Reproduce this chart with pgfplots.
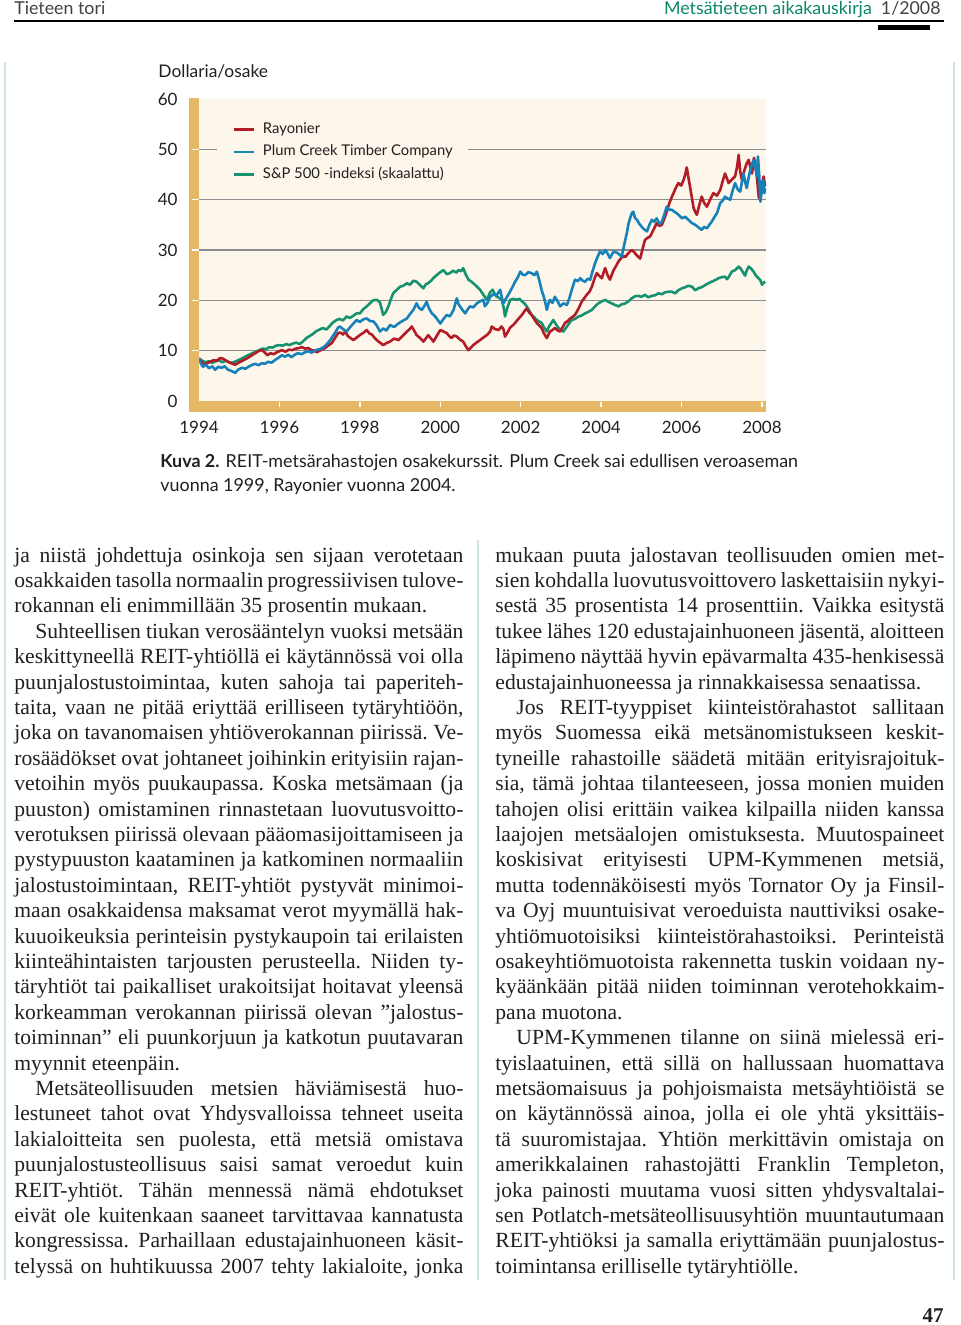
\documentclass[border=0pt]{standalone}
\usepackage{pgfplots}
\pgfplotsset{compat=1.18}
\usepackage{fontspec}
\setmainfont{Liberation Serif}
\newfontfamily\gill{Lato}
\definecolor{rred}{RGB}{178,28,38}
\definecolor{rblue}{RGB}{23,130,186}
\definecolor{rgreen}{RGB}{22,146,110}
\definecolor{bgcream}{RGB}{253,246,235}
\definecolor{gold}{RGB}{228,184,100}
\definecolor{gridgrey}{RGB}{140,140,140}
\definecolor{hteal}{RGB}{10,135,105}
\definecolor{faint}{RGB}{205,228,222}
\definecolor{txt}{RGB}{35,31,32}
\newdimen\cw \cw=224.5pt
\newcommand\JL[1]{\hbox to \cw{#1}}
\newcommand\LL[1]{\hbox to \cw{#1\hfil}}
\newcommand\IL[1]{\hbox to \cw{\hskip10.5pt #1}}
\newcommand\bodyfont{\fontsize{10.8}{12.7}\selectfont\frenchspacing\spaceskip=.25em plus .6em minus .13em\relax}
\begin{document}
\begin{tikzpicture}
\path[use as bounding box, fill=white] (0pt,0pt) rectangle (480pt,-662.5pt);
\begin{axis}[
 at={(99.5pt,-200.5pt)}, anchor=south west,
 scale only axis, width=283.5pt, height=151pt,
 xmin=1994, xmax=2008.1, ymin=0, ymax=60,
 axis line style={draw=none},
 axis background/.style={fill=bgcream},
 xtick={1994,1996,1998,2000,2002,2004,2006,2008},
 xticklabels={1994,1996,1998,2000,2002,2004,2006,2008},
 ytick={10,20,30,40,50},
 extra y ticks={0,60},
 extra y tick style={grid=none},
 ymajorgrids,
 grid style={draw=gridgrey, line width=0.65pt},
 major tick length=0pt,
 tick style={draw=none},
 /pgf/number format/assume math mode=true,
 ticklabel style={font=\gill\fontsize{8.5}{10}\selectfont, inner sep=0pt, text=txt},
 yticklabel style={anchor=east, xshift=-10.5pt},
 xticklabel style={anchor=north, yshift=-9.75pt},
 legend style={at={(0.0317,0.950)}, anchor=north west, draw=none, fill=bgcream,
   inner xsep=7.5pt, inner ysep=4pt, font=\gill\fontsize{7.4}{9}\selectfont,
   row sep=4.15pt, cells={anchor=west}, nodes={inner sep=0pt, text height=5.5pt, text depth=1.6pt, text=txt}},
 legend image code/.code={\draw[#1] (0pt,0pt) -- (10pt,0pt); \path (14pt,0pt);},
 every axis plot/.append style={line width=1.3pt, line join=round},
]
\addlegendimage{rred, line width=1.3pt}
\addlegendentry{Rayonier}
\addlegendimage{rblue, line width=1.3pt}
\addlegendentry{Plum Creek Timber Company}
\addlegendimage{rgreen, line width=1.3pt}
\addlegendentry{S\&P 500 -indeksi (skaalattu)}
\addplot[rgreen, forget plot] table {
1994.00 8.4
1994.08 8.0
1994.15 7.7
1994.25 7.9
1994.33 7.6
1994.42 7.9
1994.50 8.1
1994.58 7.7
1994.67 8.0
1994.75 7.7
1994.83 7.6
1994.92 7.9
1995.00 8.2
1995.08 8.5
1995.17 8.9
1995.25 9.2
1995.33 9.5
1995.42 9.8
1995.50 10.1
1995.58 10.4
1995.67 10.3
1995.75 10.7
1995.83 10.6
1995.92 11.0
1996.00 11.1
1996.08 11.0
1996.17 11.3
1996.25 11.1
1996.33 11.4
1996.42 11.6
1996.50 11.3
1996.58 11.8
1996.67 12.5
1996.75 12.9
1996.83 13.3
1996.92 13.9
1997.00 14.2
1997.08 14.5
1997.17 14.2
1997.25 14.9
1997.33 15.6
1997.42 16.1
1997.50 16.3
1997.58 16.0
1997.67 16.8
1997.75 16.5
1997.83 16.9
1997.92 17.4
1998.00 17.4
1998.08 18.2
1998.17 18.8
1998.25 19.4
1998.33 20.0
1998.42 20.1
1998.50 19.6
1998.58 17.1
1998.64 17.6
1998.71 18.8
1998.77 20.2
1998.83 21.4
1998.92 22.1
1999.00 22.7
1999.08 22.9
1999.17 23.4
1999.25 23.1
1999.33 23.9
1999.41 23.7
1999.50 23.0
1999.58 22.4
1999.64 23.2
1999.70 23.4
1999.77 23.9
1999.84 24.5
1999.91 25.0
2000.00 25.6
2000.08 26.0
2000.16 25.2
2000.24 25.4
2000.32 25.9
2000.40 25.5
2000.45 26.0
2000.52 25.8
2000.57 26.4
2000.63 25.2
2000.70 24.1
2000.76 23.8
2000.82 23.4
2000.90 22.8
2000.99 22.1
2001.08 21.0
2001.16 20.1
2001.24 21.6
2001.30 22.1
2001.38 20.9
2001.46 20.5
2001.53 20.1
2001.58 18.4
2001.61 16.8
2001.67 18.6
2001.74 20.1
2001.82 20.3
2001.90 20.1
2001.97 20.3
2002.03 19.8
2002.09 19.4
2002.15 18.8
2002.21 18.0
2002.27 17.1
2002.34 16.6
2002.40 16.1
2002.46 15.8
2002.52 15.5
2002.58 14.6
2002.65 13.8
2002.69 14.6
2002.73 15.1
2002.81 16.1
2002.88 15.2
2002.94 14.5
2003.00 14.2
2003.06 13.8
2003.15 14.8
2003.21 15.5
2003.27 16.1
2003.35 16.3
2003.44 16.8
2003.52 17.0
2003.60 17.4
2003.68 17.7
2003.77 18.1
2003.85 18.8
2003.93 19.4
2004.02 19.8
2004.10 20.1
2004.18 19.7
2004.26 19.4
2004.34 19.1
2004.43 18.8
2004.51 19.2
2004.60 19.4
2004.68 19.8
2004.76 20.4
2004.84 20.8
2004.92 20.9
2005.00 20.7
2005.09 21.1
2005.17 20.6
2005.26 20.9
2005.34 21.0
2005.43 21.4
2005.51 21.2
2005.59 21.6
2005.68 21.7
2005.76 21.7
2005.84 21.4
2005.92 22.0
2006.01 22.4
2006.09 22.6
2006.17 22.9
2006.26 22.7
2006.34 22.0
2006.42 22.4
2006.50 22.6
2006.58 23.0
2006.67 23.4
2006.75 23.7
2006.83 24.0
2006.92 24.4
2007.00 24.6
2007.08 24.7
2007.13 24.2
2007.17 24.6
2007.25 25.7
2007.33 26.0
2007.42 26.7
2007.48 26.2
2007.54 25.4
2007.58 24.9
2007.62 25.9
2007.67 26.7
2007.73 26.3
2007.79 25.7
2007.85 24.9
2007.91 24.4
2007.96 24.0
2008.00 23.1
2008.04 23.5
2008.08 23.7
};
\addplot[rred, forget plot] table {
1994.00 8.5
1994.06 7.8
1994.12 7.2
1994.20 7.5
1994.28 7.8
1994.36 8.1
1994.44 8.0
1994.52 8.5
1994.57 8.5
1994.64 8.2
1994.72 7.8
1994.80 7.5
1994.90 7.2
1994.98 7.6
1995.08 8.0
1995.20 8.5
1995.30 9.0
1995.38 9.4
1995.44 9.7
1995.50 10.0
1995.57 10.1
1995.64 9.6
1995.70 9.1
1995.78 9.5
1995.86 9.3
1995.94 9.7
1996.06 10.1
1996.15 9.8
1996.24 10.2
1996.32 10.1
1996.40 10.4
1996.48 10.5
1996.56 10.7
1996.64 10.4
1996.72 10.5
1996.80 10.1
1996.86 10.0
1996.93 9.7
1997.00 10.0
1997.07 10.3
1997.13 10.5
1997.21 11.0
1997.30 11.5
1997.38 12.5
1997.46 13.5
1997.52 13.6
1997.58 13.2
1997.64 13.8
1997.70 12.9
1997.77 12.5
1997.84 12.1
1997.92 12.6
1998.00 13.1
1998.08 13.5
1998.17 14.1
1998.24 13.4
1998.30 13.2
1998.36 12.6
1998.42 12.1
1998.50 11.6
1998.58 11.1
1998.66 11.5
1998.75 11.8
1998.85 12.4
1998.96 12.1
1999.06 12.9
1999.17 13.8
1999.23 14.2
1999.29 14.8
1999.35 14.0
1999.41 13.1
1999.50 12.5
1999.58 11.8
1999.64 12.4
1999.70 13.1
1999.77 12.4
1999.83 11.8
1999.91 12.9
2000.00 14.1
2000.08 13.8
2000.16 13.5
2000.22 12.9
2000.28 12.5
2000.34 13.0
2000.41 12.8
2000.49 12.2
2000.57 11.8
2000.64 10.8
2000.70 10.1
2000.76 10.6
2000.82 11.1
2000.90 11.6
2000.99 12.1
2001.07 12.6
2001.16 13.1
2001.24 13.8
2001.28 14.8
2001.36 14.3
2001.45 14.1
2001.52 14.8
2001.57 14.3
2001.61 12.8
2001.67 13.6
2001.74 14.6
2001.80 15.0
2001.86 15.5
2001.94 16.3
2002.03 17.1
2002.09 17.8
2002.15 18.4
2002.21 17.6
2002.27 17.1
2002.34 16.2
2002.40 15.5
2002.46 15.0
2002.52 14.5
2002.58 13.4
2002.65 12.5
2002.69 13.2
2002.73 13.8
2002.79 14.1
2002.85 14.5
2002.92 14.0
2002.98 13.8
2003.04 14.6
2003.10 15.5
2003.17 15.9
2003.23 16.4
2003.29 16.7
2003.35 17.1
2003.44 18.4
2003.52 19.8
2003.58 20.4
2003.64 21.1
2003.71 21.7
2003.77 22.7
2003.83 24.2
2003.89 25.4
2003.96 24.8
2004.02 24.4
2004.06 25.5
2004.10 26.4
2004.16 25.0
2004.22 24.1
2004.27 25.2
2004.31 26.0
2004.37 26.8
2004.43 27.7
2004.50 28.4
2004.56 28.8
2004.60 28.6
2004.66 29.2
2004.72 29.7
2004.76 30.0
2004.82 29.6
2004.88 29.0
2004.97 28.3
2005.03 30.2
2005.09 32.0
2005.15 32.4
2005.22 32.7
2005.30 34.0
2005.38 35.3
2005.45 34.8
2005.51 35.0
2005.57 36.2
2005.63 37.6
2005.70 39.4
2005.76 40.6
2005.80 41.3
2005.86 42.4
2005.92 43.3
2005.99 42.8
2006.05 43.9
2006.09 45.0
2006.13 46.4
2006.17 44.4
2006.21 42.6
2006.26 40.2
2006.30 38.3
2006.34 37.6
2006.38 37.0
2006.44 38.9
2006.50 40.6
2006.56 39.4
2006.63 38.6
2006.71 40.0
2006.79 41.3
2006.88 40.8
2006.96 41.9
2007.02 43.6
2007.08 45.2
2007.13 44.2
2007.17 43.3
2007.25 44.0
2007.33 44.6
2007.38 46.5
2007.42 48.9
2007.46 45.5
2007.50 43.9
2007.56 45.8
2007.62 47.2
2007.67 47.9
2007.71 46.4
2007.75 45.2
2007.80 48.3
2007.84 47.0
2007.88 44.0
2007.92 40.4
2007.96 41.2
2008.00 43.2
2008.04 44.6
2008.08 42.6
};
\addplot[rblue, forget plot] table {
1994.00 8.5
1994.05 7.4
1994.10 6.8
1994.17 7.2
1994.25 6.5
1994.33 6.9
1994.40 6.2
1994.48 6.8
1994.56 6.6
1994.64 6.9
1994.72 6.2
1994.80 6.0
1994.90 5.6
1994.97 6.2
1995.07 6.6
1995.15 6.4
1995.25 6.9
1995.33 7.2
1995.40 7.4
1995.48 7.1
1995.56 7.5
1995.64 7.4
1995.72 7.8
1995.80 7.6
1995.90 8.2
1995.98 8.6
1996.06 9.1
1996.14 8.8
1996.22 9.2
1996.30 8.7
1996.38 9.2
1996.46 9.5
1996.55 9.3
1996.64 9.7
1996.72 9.9
1996.80 9.6
1996.90 10.1
1997.00 10.3
1997.06 10.5
1997.13 10.9
1997.20 11.5
1997.28 12.3
1997.38 13.5
1997.46 14.6
1997.50 14.8
1997.58 14.3
1997.67 13.8
1997.75 14.6
1997.84 15.4
1997.92 16.1
1998.00 15.7
1998.08 16.2
1998.17 16.4
1998.25 15.9
1998.34 15.8
1998.42 15.0
1998.50 13.8
1998.58 14.4
1998.66 14.0
1998.75 15.1
1998.85 14.7
1998.96 15.4
1999.06 15.9
1999.17 16.4
1999.25 17.3
1999.33 18.1
1999.41 19.4
1999.47 18.5
1999.54 18.1
1999.60 18.8
1999.66 19.7
1999.72 18.4
1999.79 17.4
1999.85 17.0
1999.91 16.4
2000.00 15.4
2000.08 16.3
2000.16 17.1
2000.24 16.8
2000.33 18.1
2000.41 20.4
2000.45 19.3
2000.49 18.8
2000.56 18.0
2000.62 17.4
2000.68 18.2
2000.74 18.8
2000.82 18.6
2000.91 19.4
2000.99 19.8
2001.07 20.1
2001.11 18.8
2001.18 19.6
2001.24 20.7
2001.32 21.2
2001.40 21.0
2001.49 22.1
2001.53 20.6
2001.57 19.4
2001.63 20.3
2001.69 21.1
2001.78 22.4
2001.86 23.7
2001.93 24.6
2001.99 25.7
2002.05 25.1
2002.11 25.0
2002.19 25.6
2002.27 25.4
2002.34 25.0
2002.40 25.7
2002.44 24.6
2002.48 23.4
2002.52 22.0
2002.56 21.1
2002.61 19.6
2002.65 18.1
2002.69 19.4
2002.73 20.1
2002.79 19.5
2002.85 20.7
2002.92 19.8
2002.98 18.8
2003.06 19.4
2003.15 19.1
2003.21 20.4
2003.27 22.1
2003.35 24.1
2003.42 23.8
2003.48 24.4
2003.54 23.9
2003.60 23.7
2003.67 24.3
2003.73 24.1
2003.79 25.9
2003.85 27.4
2003.91 28.6
2003.97 29.7
2004.04 29.2
2004.10 30.0
2004.16 29.3
2004.22 28.4
2004.31 29.7
2004.41 29.4
2004.51 28.7
2004.56 30.5
2004.60 32.0
2004.64 33.4
2004.68 35.2
2004.72 36.3
2004.76 37.3
2004.80 37.6
2004.84 36.4
2004.89 36.0
2004.95 35.2
2005.01 34.6
2005.07 34.1
2005.14 33.7
2005.20 35.0
2005.26 36.0
2005.32 35.6
2005.38 36.3
2005.45 35.2
2005.51 35.6
2005.57 37.0
2005.63 38.6
2005.69 38.0
2005.76 38.0
2005.82 37.6
2005.88 37.3
2005.95 36.8
2006.01 36.3
2006.09 36.6
2006.17 36.0
2006.25 35.4
2006.34 35.0
2006.42 34.5
2006.50 34.0
2006.56 34.6
2006.63 34.3
2006.69 35.0
2006.75 35.6
2006.82 36.6
2006.88 37.3
2006.96 39.3
2007.02 39.8
2007.08 40.6
2007.15 40.2
2007.21 40.0
2007.27 41.8
2007.33 43.3
2007.40 42.0
2007.46 41.6
2007.50 43.5
2007.54 45.2
2007.58 43.6
2007.62 42.3
2007.67 44.5
2007.71 45.9
2007.75 47.0
2007.79 47.9
2007.83 46.5
2007.87 44.6
2007.90 48.6
2007.93 45.0
2007.96 39.6
2008.00 42.0
2008.03 43.9
2008.06 41.3
2008.08 42.3
};
\end{axis}
\begin{scope}[x=0.5pt, y=-0.5pt]
% gold axis bars
\fill[gold] (189,98) rectangle (199,412);
\fill[gold] (199,401.5) rectangle (766,412);
\foreach \v in {10,20,30,40,50} \draw[white, line width=0.6pt] (192,{401-5.0333*\v}) -- (199,{401-5.0333*\v});
\foreach \yr in {1996,1998,2000,2002,2004,2006,2008} \draw[white, line width=0.7pt] ({199+40.21*(\yr-1994)},402) -- ({199+40.21*(\yr-1994)},407);
\node[anchor=base west, inner sep=0pt, text=txt, font=\gill\fontsize{8.7}{10}\selectfont] at (158,78) {Dollaria/osake};
% header
\node[anchor=base west, inner sep=0pt, text=txt!85, font=\gill\fontsize{8.9}{10}\selectfont] at (14,15) {Tieteen tori};
\node[anchor=base east, inner sep=0pt, font=\gill\fontsize{8.9}{10}\selectfont] at (941,15) {\textcolor{hteal}{Metsätieteen aikakauskirja}\ \ \textcolor{txt!85}{1/2008}};
\draw[black, line width=1pt] (14,21) -- (944,21);
\fill[black] (878,25) rectangle (930,30);
% faint rules
\draw[faint, line width=1pt] (5,62) -- (5,1280);
\draw[faint, line width=1pt] (478,540) -- (478,1280);
\draw[faint, line width=1pt] (954,62) -- (954,1280);
% caption
\node[anchor=base west, inner sep=0pt, text=txt, font=\gill\fontsize{8.95}{11}\selectfont] at (160,468) {\textbf{Kuva 2.} REIT-metsärahastojen osakekurssit. Plum Creek sai edullisen veroaseman};
\node[anchor=base west, inner sep=0pt, text=txt, font=\gill\fontsize{8.95}{11}\selectfont] at (160,491) {vuonna 1999, Rayonier vuonna 2004.};
% body text left
\node[anchor=base west, inner sep=0pt, text=txt] at (14,562) {\bodyfont\vtop{\baselineskip=12.7pt\lineskiplimit=-20pt
\JL{ja niistä johdettuja osinkoja sen sijaan verotetaan}
\JL{osakkaiden tasolla normaalin progressiivisen tulove-}
\LL{rokannan eli enimmillään 35 prosentin mukaan.}
\IL{Suhteellisen tiukan verosääntelyn vuoksi metsään}
\JL{keskittyneellä REIT-yhtiöllä ei käytännössä voi olla}
\JL{puunjalostustoimintaa, kuten sahoja tai paperiteh-}
\JL{taita, vaan ne pitää eriyttää erilliseen tytäryhtiöön,}
\JL{joka on tavanomaisen yhtiöverokannan piirissä. Ve-}
\JL{rosäädökset ovat johtaneet joihinkin erityisiin rajan-}
\JL{vetoihin myös puukaupassa. Koska metsämaan (ja}
\JL{puuston) omistaminen rinnastetaan luovutusvoitto-}
\JL{verotuksen piirissä olevaan pääomasijoittamiseen ja}
\JL{pystypuuston kaataminen ja katkominen normaaliin}
\JL{jalostustoimintaan, REIT-yhtiöt pystyvät minimoi-}
\JL{maan osakkaidensa maksamat verot myymällä hak-}
\JL{kuuoikeuksia perinteisin pystykaupoin tai erilaisten}
\JL{kiinteähintaisten tarjousten perusteella. Niiden ty-}
\JL{täryhtiöt tai paikalliset urakoitsijat hoitavat yleensä}
\JL{korkeamman verokannan piirissä olevan ”jalostus-}
\JL{toiminnan” eli puunkorjuun ja katkotun puutavaran}
\LL{myynnit eteenpäin.}
\IL{Metsäteollisuuden metsien häviämisestä huo-}
\JL{lestuneet tahot ovat Yhdysvalloissa tehneet useita}
\JL{lakialoitteita sen puolesta, että metsiä omistava}
\JL{puunjalostusteollisuus saisi samat veroedut kuin}
\JL{REIT-yhtiöt. Tähän mennessä nämä ehdotukset}
\JL{eivät ole kuitenkaan saaneet tarvittavaa kannatusta}
\JL{kongressissa. Parhaillaan edustajainhuoneen käsit-}
\JL{telyssä on huhtikuussa 2007 tehty lakialoite, jonka}
}};
% body text right
\node[anchor=base west, inner sep=0pt, text=txt] at (495,562) {\bodyfont\vtop{\baselineskip=12.7pt\lineskiplimit=-20pt
\JL{mukaan puuta jalostavan teollisuuden omien met-}
\JL{sien kohdalla luovutusvoittovero laskettaisiin nykyi-}
\JL{sestä 35 prosentista 14 prosenttiin. Vaikka esitystä}
\JL{tukee lähes 120 edustajainhuoneen jäsentä, aloitteen}
\JL{läpimeno näyttää hyvin epävarmalta 435-henkisessä}
\LL{edustajainhuoneessa ja rinnakkaisessa senaatissa.}
\IL{Jos REIT-tyyppiset kiinteistörahastot sallitaan}
\JL{myös Suomessa eikä metsänomistukseen keskit-}
\JL{tyneille rahastoille säädetä mitään erityisrajoituk-}
\JL{sia, tämä johtaa tilanteeseen, jossa monien muiden}
\JL{tahojen olisi erittäin vaikea kilpailla niiden kanssa}
\JL{laajojen metsäalojen omistuksesta. Muutospaineet}
\JL{koskisivat erityisesti UPM-Kymmenen metsiä,}
\JL{mutta todennäköisesti myös Tornator Oy ja Finsil-}
\JL{va Oyj muuntuisivat veroeduista nauttiviksi osake-}
\JL{yhtiömuotoisiksi kiinteistörahastoiksi. Perinteistä}
\JL{osakeyhtiömuotoista rakennetta tuskin voidaan ny-}
\JL{kyäänkään pitää niiden toiminnan verotehokkaim-}
\LL{pana muotona.}
\IL{UPM-Kymmenen tilanne on siinä mielessä eri-}
\JL{tyislaatuinen, että sillä on hallussaan huomattava}
\JL{metsäomaisuus ja pohjoismaista metsäyhtiöistä se}
\JL{on käytännössä ainoa, jolla ei ole yhtä yksittäis-}
\JL{tä suuromistajaa. Yhtiön merkittävin omistaja on}
\JL{amerikkalainen rahastojätti Franklin Templeton,}
\JL{joka painosti muutama vuosi sitten yhdysvaltalai-}
\JL{sen Potlatch-metsäteollisuusyhtiön muuntautumaan}
\JL{REIT-yhtiöksi ja samalla eriyttämään puunjalostus-}
\LL{toimintansa erilliselle tytäryhtiölle.}
}};
\node[anchor=base east, inner sep=0pt, text=txt] at (944,1322) {\fontsize{10.5}{12}\selectfont\bfseries 47};
\end{scope}
\end{tikzpicture}
\end{document}
